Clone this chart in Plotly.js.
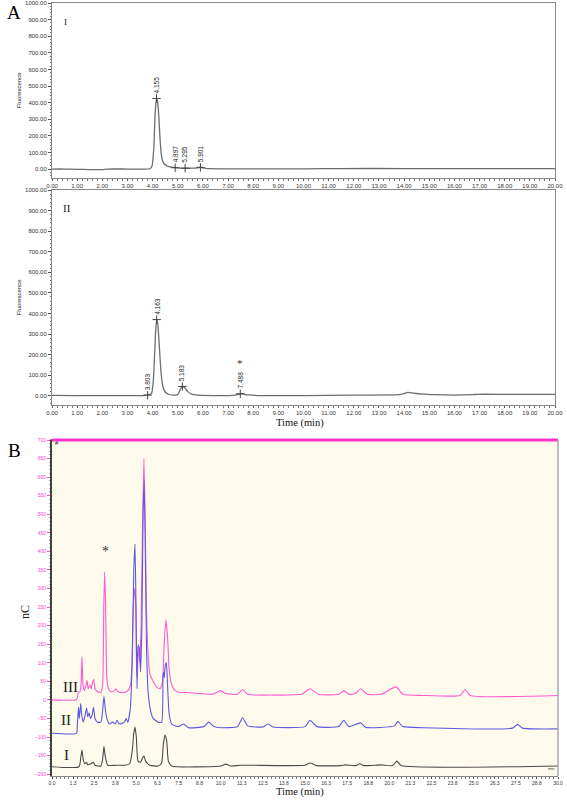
<!DOCTYPE html>
<html><head><meta charset="utf-8">
<script src="https://cdn.plot.ly/plotly-3.0.1.min.js"></script>
<style>html,body{margin:0;padding:0;background:#fff}#chart{width:567px;height:800px}</style>
</head><body><div id="chart"></div>
<script>
// ---------- Panel A (I) : fluorescence chromatogram ----------
const timeA1 = [0,0.5,1.0,1.5,2.0,2.2,3.0,3.6,3.9,3.98,4.05,4.1,4.155,4.2,4.25,4.3,4.35,4.42,4.5,4.65,4.9,5.1,5.3,5.6,5.8,5.9,6.05,6.3,7.0,9.0,10.0,11.5,14.0,17.0,20.0];
const fluoA1 = [0,0,-2,-3,-3,0,0,0,2,20,130,330,425,405,310,170,85,40,25,14,8,6,5,5,7,10,6,2,1,1,1,3,3,3,3];
const peakTimeA1 = [4.155,4.897,5.295,5.901];
const peakHeightA1 = [425,8,5,10];
const peakLabelA1 = ['4.155','4.897','5.295','5.901'];

// ---------- Panel A (II) ----------
const timeA2 = [0,1.0,2.0,3.0,3.6,3.8,3.95,4.02,4.08,4.12,4.163,4.2,4.25,4.3,4.35,4.42,4.5,4.65,4.9,5.0,5.08,5.183,5.28,5.4,5.55,5.8,6.5,7.2,7.4,7.488,7.6,7.8,8.2,10.0,12.0,13.8,14.0,14.15,14.4,14.8,15.2,16.7,16.9,18.0,20.0];
const fluoA2 = [2,1,1,1,1,3,10,60,200,310,370,355,275,175,95,40,18,6,3,6,25,45,38,20,8,3,1,2,5,10,8,4,1,1,3,5,10,16,12,8,5,5,7,7,7];
const peakTimeA2 = [3.803,4.163,5.183,7.488];
const peakHeightA2 = [3,370,45,10];
const peakLabelA2 = ['3.803','4.163','5.183','7.488'];

// ---------- Panel B : three overlaid traces (nC) ----------
const timeIII = [0,1.4,1.5,1.55,1.65,1.72,1.78,1.84,1.92,2.0,2.07,2.15,2.25,2.32,2.42,2.48,2.55,2.7,2.9,3.0,3.07,3.12,3.18,3.25,3.35,3.5,3.7,3.8,3.9,4.3,4.5,4.65,4.75,4.82,4.9,4.96,5.02,5.06,5.12,5.2,5.28,5.36,5.45,5.52,5.6,5.7,5.8,6.0,6.2,6.4,6.55,6.65,6.75,6.85,6.95,7.1,7.3,7.6,8.0,9.5,10.0,10.3,11.0,11.3,11.6,13.0,14.8,15.3,15.8,17.0,17.3,17.6,18.0,18.3,18.7,19.5,20.4,20.8,22.0,24.2,24.5,24.8,30.0];
const nC_III = [0,0,5,20,22,40,116,40,25,35,52,30,40,30,50,55,30,22,20,40,250,345,250,60,30,22,25,30,22,20,25,40,100,250,300,260,80,60,150,100,200,450,650,500,250,120,70,50,35,30,50,150,215,170,80,40,25,20,20,15,25,17,15,28,15,13,15,30,15,15,25,15,17,30,15,15,35,15,12,12,28,12,12];

const timeII = [0,1.45,1.5,1.57,1.62,1.7,1.76,1.85,1.95,2.05,2.12,2.2,2.28,2.38,2.46,2.55,2.7,2.9,3.0,3.08,3.15,3.25,3.4,3.6,3.75,3.85,4.0,4.3,4.4,4.5,4.65,4.75,4.85,4.92,4.98,5.04,5.1,5.18,5.25,5.33,5.4,5.46,5.52,5.6,5.7,5.85,6.0,6.3,6.5,6.58,6.62,6.66,6.72,6.78,6.85,6.95,7.1,7.5,7.8,8.1,9.0,9.3,9.6,10.0,11.0,11.3,11.6,12.5,12.8,13.1,15.0,15.3,15.7,17.0,17.3,17.6,18.3,18.6,20.3,20.5,20.8,22.0,27.3,27.6,27.9,30.0];
const nC_II = [-90,-90,-70,-20,-50,-10,-40,-60,-45,-22,-45,-35,-50,-40,-20,-50,-60,-60,-30,10,-20,-50,-65,-60,-65,-55,-65,-60,-50,-60,-20,100,350,420,250,30,145,140,75,200,500,590,450,150,20,-30,-50,-60,-60,60,75,60,95,100,40,-40,-65,-72,-65,-75,-72,-60,-72,-75,-72,-48,-70,-73,-65,-73,-72,-55,-72,-72,-55,-72,-62,-74,-70,-58,-72,-75,-76,-66,-76,-78];

const timeI = [0,1.6,1.72,1.78,1.85,1.95,2.05,2.12,2.3,2.45,2.55,2.9,3.0,3.08,3.15,3.3,3.8,4.3,4.6,4.75,4.85,4.92,5.0,5.1,5.25,5.38,5.45,5.55,5.8,6.3,6.5,6.6,6.7,6.8,6.9,7.1,10.0,10.3,10.6,11.2,15.0,15.3,15.7,17.1,17.4,18.0,18.25,18.5,19.5,20.2,20.45,20.7,30.0];
const nC_I = [-180,-180,-150,-135,-160,-172,-168,-175,-172,-168,-176,-178,-160,-126,-150,-176,-176,-176,-172,-140,-90,-73,-100,-165,-168,-155,-151,-165,-176,-178,-170,-120,-95,-110,-165,-178,-178,-173,-178,-176,-176,-170,-177,-177,-175,-177,-172,-177,-175,-177,-165,-177,-178];

const W = 567, H = 800;
const px = x => x / W, py = y => 1 - y / H;

const tickFontA = {family: 'Liberation Sans, Arial, sans-serif', size: 6, color: '#333'};
const serif = 'Liberation Serif, Times New Roman, serif';
const crossMarker = {symbol: 'cross-thin-open', size: 6, color: '#444', line: {color: '#444', width: 1}};

const traces = [
  {x: timeA1, y: fluoA1, xaxis: 'x', yaxis: 'y', mode: 'lines', line: {color: '#6e6e6e', width: 1.3, shape: 'spline', smoothing: 0.6}, hoverinfo: 'skip'},
  {x: peakTimeA1, y: peakHeightA1, xaxis: 'x', yaxis: 'y', mode: 'markers', marker: crossMarker, hoverinfo: 'skip'},
  {x: timeA2, y: fluoA2, xaxis: 'x2', yaxis: 'y2', mode: 'lines', line: {color: '#6e6e6e', width: 1.3, shape: 'spline', smoothing: 0.6}, hoverinfo: 'skip'},
  {x: peakTimeA2, y: peakHeightA2, xaxis: 'x2', yaxis: 'y2', mode: 'markers', marker: crossMarker, hoverinfo: 'skip'},
  {x: timeIII, y: nC_III, xaxis: 'x3', yaxis: 'y3', mode: 'lines', line: {color: '#ff5ad2', width: 1.1, shape: 'spline', smoothing: 0.5}, hoverinfo: 'skip'},
  {x: timeII, y: nC_II, xaxis: 'x3', yaxis: 'y3', mode: 'lines', line: {color: '#5a5ae0', width: 1.1, shape: 'spline', smoothing: 0.5}, hoverinfo: 'skip'},
  {x: timeI, y: nC_I, xaxis: 'x3', yaxis: 'y3', mode: 'lines', line: {color: '#4a4a4a', width: 1.1, shape: 'spline', smoothing: 0.5}, hoverinfo: 'skip'}
];

const axA_x = (anchor) => ({
  anchor: anchor, domain: [px(52), px(555)], range: [0, 20], dtick: 1, tickformat: '.2f',
  showgrid: false, zeroline: false, showline: true, linecolor: '#888', linewidth: 1, mirror: true,
  ticks: 'outside', ticklen: 2, tickcolor: '#555', tickfont: tickFontA,
  minor: {dtick: 0.2, ticks: 'outside', ticklen: 1.5, tickcolor: '#777'}
});
const axA_y = (anchor, dom, rng) => ({
  anchor: anchor, domain: dom, range: rng, tickvals: [0,100,200,300,400,500,600,700,800,900,1000], tickformat: '.2f',
  showgrid: false, zeroline: false, showline: true, linecolor: '#888', linewidth: 1, mirror: true,
  ticks: 'outside', ticklen: 3, tickcolor: '#555', tickfont: tickFontA,
  minor: {dtick: 20, ticks: 'outside', ticklen: 1.5, tickcolor: '#777'},
  title: {text: 'Fluorescence', font: {family: 'Liberation Sans, Arial, sans-serif', size: 6, color: '#222'}, standoff: 2}
});

const annotations = [];
function peakLabels(times, heights, labels, xa, ya) {
  for (let i = 0; i < times.length; i++) {
    annotations.push({x: times[i], y: heights[i], xref: xa, yref: ya, text: labels[i], showarrow: false,
      textangle: -90, yanchor: 'bottom', xanchor: 'center', yshift: 3,
      font: {family: 'Liberation Sans, Arial, sans-serif', size: 6.5, color: '#222'}});
  }
}
peakLabels(peakTimeA1, peakHeightA1, peakLabelA1, 'x', 'y');
peakLabels(peakTimeA2, peakHeightA2, peakLabelA2, 'x2', 'y2');

const C = {xanchor: 'center', yanchor: 'middle', showarrow: false};
annotations.push(
  Object.assign({xref: 'paper', yref: 'paper', x: px(14), y: py(13), text: 'A', font: {family: serif, size: 19, color: '#000'}}, C),
  Object.assign({xref: 'paper', yref: 'paper', x: px(14), y: py(450), text: 'B', font: {family: serif, size: 19, color: '#000'}}, C),
  Object.assign({xref: 'paper', yref: 'paper', x: px(65), y: py(22), text: 'I', font: {family: serif, size: 9, color: '#222'}}, C),
  Object.assign({xref: 'paper', yref: 'paper', x: px(67), y: py(208), text: 'II', font: {family: serif, size: 11, color: '#222'}}, C),
  Object.assign({xref: 'x2', yref: 'y2', x: 7.488, y: 160, text: '*', font: {family: serif, size: 11, color: '#333'}}, C),
  {xref: 'paper', yref: 'paper', x: px(300), y: py(415), xanchor: 'center', yanchor: 'top', showarrow: false, text: 'Time (min)', font: {family: serif, size: 10.5, color: '#111'}},
  {xref: 'paper', yref: 'paper', x: px(300), y: 0, xanchor: 'center', yanchor: 'bottom', showarrow: false, text: 'Time (min)', font: {family: serif, size: 10.5, color: '#111'}},
  Object.assign({xref: 'paper', yref: 'paper', x: px(25), y: py(612), text: 'nC', textangle: -90, font: {family: serif, size: 12, color: '#222'}}, C),
  Object.assign({xref: 'x3', yref: 'y3', x: 3.15, y: 400, text: '*', font: {family: serif, size: 14, color: '#333'}}, C),
  Object.assign({xref: 'x3', yref: 'y3', x: 1.07, y: 36, text: 'III', font: {family: serif, size: 15, color: '#222'}}, C),
  Object.assign({xref: 'x3', yref: 'y3', x: 0.81, y: -55, text: 'II', font: {family: serif, size: 15, color: '#222'}}, C),
  Object.assign({xref: 'x3', yref: 'y3', x: 0.87, y: -148, text: 'I', font: {family: serif, size: 15, color: '#222'}}, C),
  Object.assign({xref: 'paper', yref: 'paper', x: px(57), y: py(443), text: '#', font: {family: 'Liberation Sans, Arial', size: 6, color: '#333'}}, C),
  Object.assign({xref: 'paper', yref: 'paper', x: px(551), y: py(768), text: 'min', font: {family: 'Liberation Sans, Arial', size: 4, color: '#333'}}, C)
);

const layout = {
  width: W, height: H, margin: {l: 0, r: 0, t: 0, b: 0},
  paper_bgcolor: '#ffffff', plot_bgcolor: '#ffffff', showlegend: false,
  xaxis: axA_x('y'),
  yaxis: axA_y('x', [py(178), py(3)], [-54, 1000]),
  xaxis2: axA_x('y2'),
  yaxis2: axA_y('x2', [py(405), py(190)], [-45, 1000]),
  xaxis3: {
    anchor: 'y3', domain: [px(52), px(558)], range: [0, 30], dtick: 1.25, tickformat: '.1f',
    showgrid: false, zeroline: false, showline: true, linecolor: '#888', linewidth: 1, mirror: true,
    ticks: 'outside', ticklen: 2, tickcolor: '#444',
    tickfont: {family: 'Liberation Sans, Arial, sans-serif', size: 5, color: '#333'},
    minor: {dtick: 0.25, ticks: 'outside', ticklen: 1.5, tickcolor: '#777'}
  },
  yaxis3: {
    anchor: 'x3', domain: [py(776), py(440)], range: [-205, 700], dtick: 50,
    showgrid: false, zeroline: false, showline: true, linecolor: '#2f4f2f', linewidth: 2,
    ticks: 'outside', ticklen: 3, tickcolor: '#ff44cc',
    tickfont: {family: 'Liberation Sans, Arial, sans-serif', size: 5, color: '#ff44cc'},
    minor: {dtick: 10, ticks: 'outside', ticklen: 1.5, tickcolor: '#ff66d6'}
  },
  shapes: [
    {type: 'rect', xref: 'x3 domain', yref: 'y3 domain', x0: 0, x1: 1, y0: 0, y1: 1, fillcolor: '#fffbec', line: {width: 0}, layer: 'below'},
    {type: 'line', xref: 'x3 domain', yref: 'y3 domain', x0: 0, x1: 1, y0: 1, y1: 1, line: {color: '#ff33cc', width: 3}},
    {type: 'line', xref: 'x3 domain', yref: 'y3 domain', x0: 1, x1: 1, y0: 0, y1: 1, line: {color: '#aaaaaa', width: 1.5}}
  ],
  annotations: annotations
};

Plotly.newPlot('chart', traces, layout, {staticPlot: true, displayModeBar: false});
</script></body></html>
